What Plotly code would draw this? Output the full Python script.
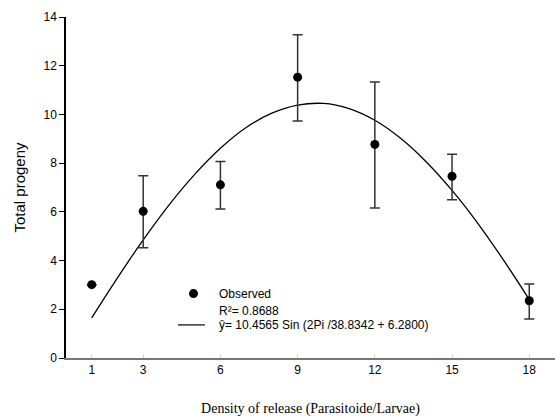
import plotly.graph_objects as go

# Observed data
density = [1, 3, 6, 9, 12, 15, 18]
progeny = [3.01, 6.02, 7.11, 11.53, 8.77, 7.46, 2.35]
err_plus = [0.0, 1.46, 0.96, 1.74, 2.56, 0.90, 0.69]
err_minus = [0.0, 1.49, 0.99, 1.80, 2.61, 0.96, 0.75]

# Fitted curve
fit_x = [1, 2, 3, 4, 5, 6, 7, 8, 9, 10, 11, 12, 13, 14, 15, 16, 17, 18]
fit_y = [1.65, 3.29, 4.85, 6.28, 7.54, 8.61, 9.46, 10.05, 10.38, 10.45,
         10.24, 9.76, 9.02, 8.05, 6.88, 5.53, 4.02, 2.40]

x_ticks = [1, 3, 6, 9, 12, 15, 18]
y_ticks = [0, 2, 4, 6, 8, 10, 12, 14]

fig = go.Figure()
fig.add_trace(go.Scatter(
    x=fit_x, y=fit_y, mode="lines", line=dict(color="black", width=1.3, shape="spline"),
    showlegend=False, hoverinfo="skip"))
fig.add_trace(go.Scatter(
    x=density, y=progeny, mode="markers",
    marker=dict(color="black", size=9),
    error_y=dict(type="data", symmetric=False, array=err_plus, arrayminus=err_minus,
                 color="#333333", thickness=1.5, width=5),
    showlegend=False))

sans = "Liberation Sans, Arial, sans-serif"
serif = "Liberation Serif, Times New Roman, serif"

fig.update_layout(
    width=560, height=419,
    margin=dict(l=66, r=5, t=17, b=61),
    paper_bgcolor="white", plot_bgcolor="white",
    font=dict(family=sans, size=12, color="black"),
    xaxis=dict(range=[0, 19], tickvals=x_ticks, ticks="inside", ticklen=3,
               tickcolor="#cccccc", showline=True, linecolor="#777777", linewidth=2,
               showgrid=False, zeroline=False, ticklabelstandoff=0,
               title=dict(text="Density of release (Parasitoide/Larvae)",
                          font=dict(family=serif, size=14), standoff=27)),
    yaxis=dict(range=[0, 14], tickvals=y_ticks, ticks="outside", ticklen=5,
               tickcolor="black", showline=True, linecolor="black", linewidth=1.5,
               showgrid=False, zeroline=False,
               title=dict(text="Total progeny", font=dict(family=sans, size=15), standoff=14)),
)

# Legend drawn by hand
fig.add_shape(type="circle", xref="paper", yref="paper",
              x0=0.2515, x1=0.2700, y0=0.176, y1=0.202,
              fillcolor="black", line=dict(width=0))
fig.add_shape(type="line", xref="paper", yref="paper",
              x0=0.229, x1=0.284, y0=0.097, y1=0.097,
              line=dict(color="black", width=1.2))
for txt, yy in [("Observed", 0.189), ("R²= 0.8688", 0.137),
                ("ŷ= 10.4565 Sin (2Pi /38.8342 + 6.2800)", 0.097)]:
    fig.add_annotation(text=txt, xref="paper", yref="paper", x=0.309, y=yy,
                       xanchor="left", yanchor="middle", showarrow=False,
                       font=dict(family=sans, size=12, color="black"))

fig.write_html("out.html")
